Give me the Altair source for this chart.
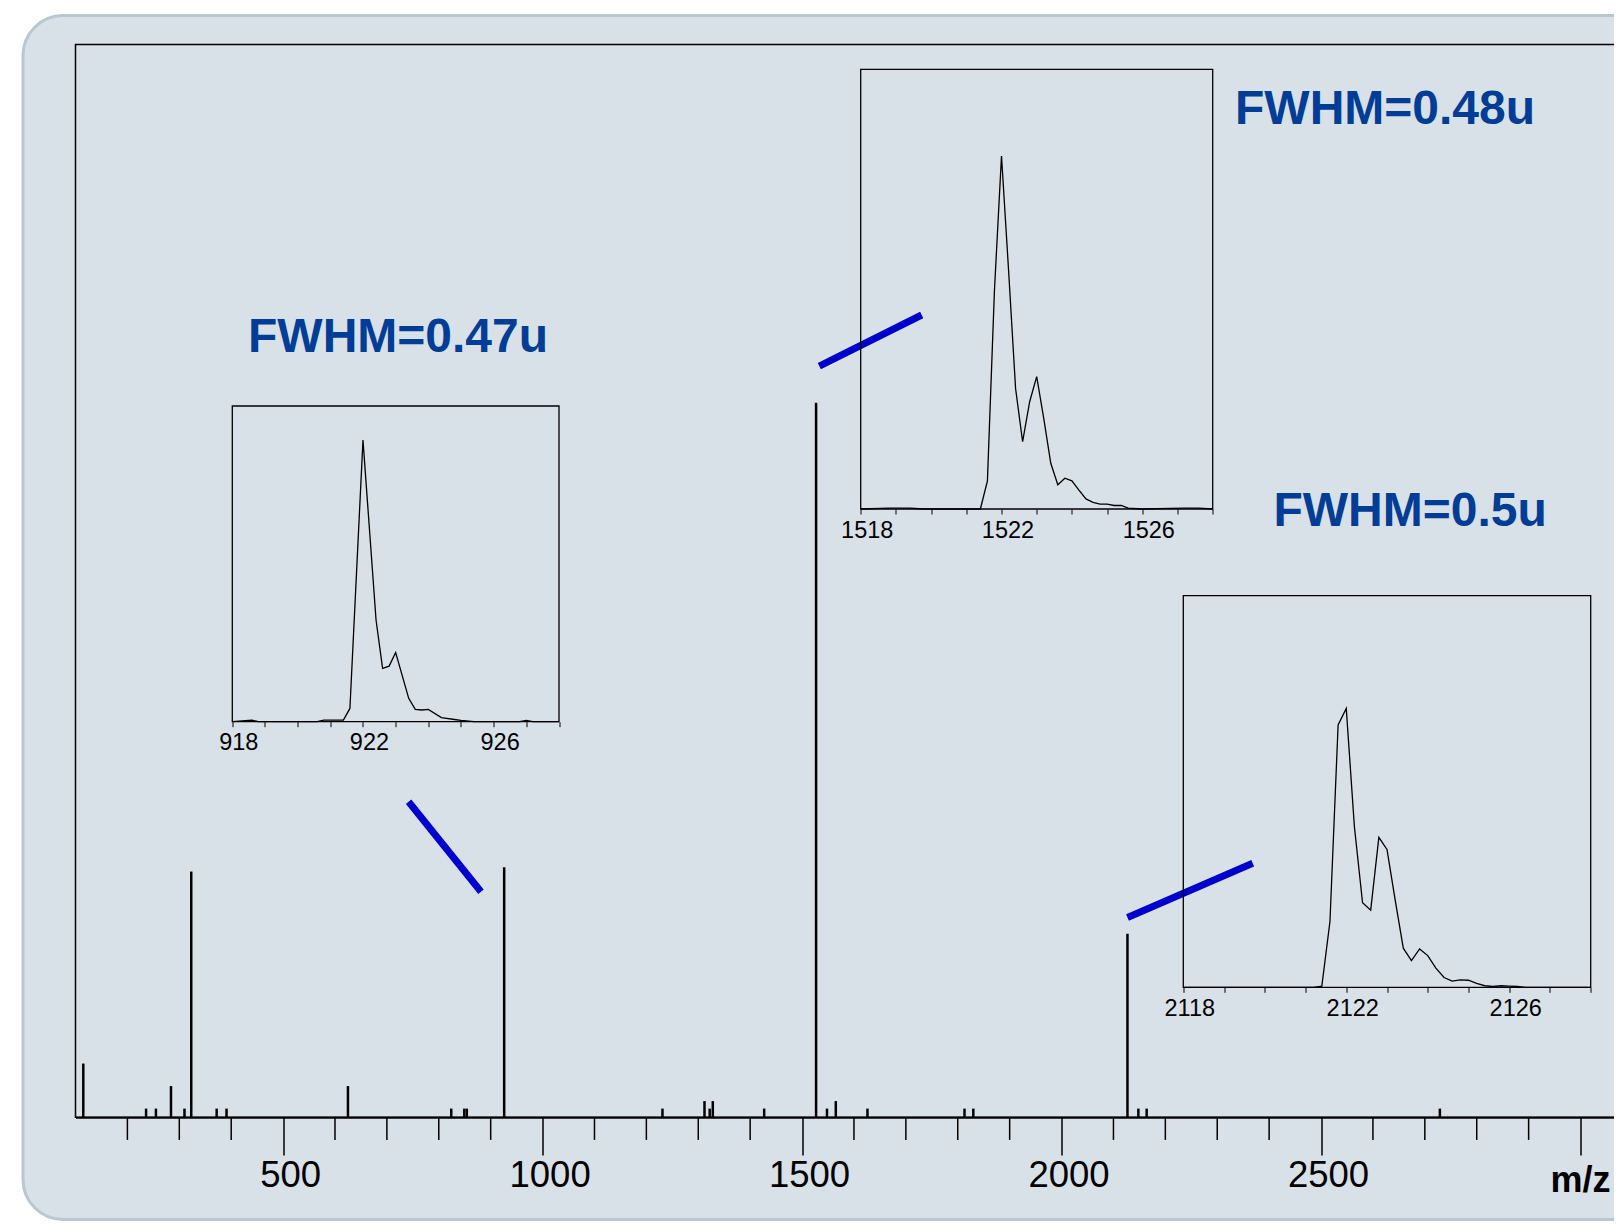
import altair as alt
import pandas as pd

# ---------------- data ----------------
# main spectrum: m/z and relative intensity (% of plot height)
peak_mz = [115, 236, 255, 284, 310, 323, 372, 391, 625, 824, 849, 854, 926,
           1231, 1312, 1322, 1328, 1427, 1527, 1548, 1565, 1626, 1813, 1830,
           2127, 2148, 2164, 2729]
peak_int = [5.0, 0.8, 0.8, 2.9, 0.8, 22.9, 0.8, 0.8, 2.9, 0.8, 0.8, 0.8, 23.3,
            0.8, 1.5, 0.8, 1.5, 0.8, 66.6, 0.8, 1.5, 0.8, 0.8, 0.8,
            17.1, 0.8, 0.8, 0.8]

major_ticks = [500, 1000, 1500, 2000, 2500, 3000]
minor_ticks = [v for v in range(200, 3000, 100) if v % 500 != 0]

# inset 1 (918-928)
ins1_mz = [918.0, 918.6, 918.8, 920.6, 920.8, 921.4, 921.6, 922.0, 922.4, 922.6,
           922.8, 923.0, 923.4, 923.6, 923.8, 924.0, 924.4, 924.8, 925.0, 925.4,
           926.8, 927.0, 927.2, 928.0]
ins1_int = [0, 0.005, 0, 0, 0.005, 0.005, 0.042, 0.892, 0.322, 0.169,
            0.176, 0.219, 0.074, 0.039, 0.037, 0.039, 0.013, 0.007, 0.004, 0,
            0, 0.004, 0, 0]
# inset 2 (1518-1528)
ins2_mz = [1518.0, 1518.8, 1519.4, 1519.8, 1521.4, 1521.6, 1521.8, 1522.0, 1522.2,
           1522.4, 1522.6, 1522.8, 1523.0, 1523.2, 1523.4, 1523.6, 1523.8, 1524.0,
           1524.2, 1524.4, 1524.6, 1524.8, 1525.0, 1525.2, 1525.4, 1525.6, 1526.0,
           1527.2, 1527.6, 1528.0]
ins2_int = [0, 0.002, 0.002, 0, 0, 0.064, 0.498, 0.803, 0.544,
            0.274, 0.153, 0.244, 0.301, 0.206, 0.104, 0.055, 0.070, 0.064,
            0.043, 0.023, 0.015, 0.011, 0.011, 0.008, 0.008, 0.002, 0,
            0.002, 0.002, 0]
# inset 3 (2118-2128)
ins3_mz = [2118.0, 2121.2, 2121.4, 2121.6, 2121.8, 2122.0, 2122.2, 2122.4, 2122.6,
           2122.8, 2123.0, 2123.2, 2123.4, 2123.6, 2123.8, 2124.0, 2124.2, 2124.4,
           2124.6, 2124.8, 2125.0, 2125.2, 2125.4, 2125.6, 2125.8, 2126.0, 2126.2,
           2126.4, 2128.0]
ins3_int = [0, 0, 0.003, 0.168, 0.670, 0.712, 0.410, 0.216, 0.197,
            0.383, 0.352, 0.223, 0.100, 0.068, 0.098, 0.081, 0.049, 0.025,
            0.016, 0.019, 0.018, 0.010, 0.004, 0.002, 0.004, 0.003, 0.002,
            0, 0]

fwhm_labels = ["FWHM=0.47u", "FWHM=0.48u", "FWHM=0.5u"]

# ---------------- styles / layout ----------------
FONT = "Liberation Sans"
PANEL = "#d9e1e8"
PANEL_EDGE = "#b7c8d2"
BLUE = "#0000cc"
TXT = "#003d96"
PLOT_W, H = 1545.5, 1072.7      # full plot frame (partly beyond the page edge)
W = 1538.5                      # visible drawing width (page must not overflow)
PAD = {"left": 67.5, "top": 36.5, "right": 0, "bottom": 104.8}

one = pd.DataFrame({"k": [0]})

main_sx = alt.Scale(domain=[100, 3078], range=[0, PLOT_W], nice=False, zero=False)
main_sy = alt.Scale(domain=[0, 100], nice=False, zero=False)
main_axis = alt.Axis(
    orient="bottom", values=major_ticks,
    labelExpr="datum.value < 2900 ? datum.label : ''",
    tickSize=37.7, tickWidth=1.5, tickColor="black",
    domainColor="black", domainWidth=2,
    labelFont=FONT, labelFontSize=36.5, labelColor="black", labelPadding=3,
    labelOffset=7, labelFlush=False, labelOverlap=False, grid=False, title=None,
    format="d", zindex=1,
)

panel = alt.Chart(one).mark_rect(
    fill=PANEL, stroke=PANEL_EDGE, strokeWidth=3, cornerRadius=40
).encode(x=alt.value(-52.5), x2=alt.value(1640), y=alt.value(-29), y2=alt.value(1175))

frame = alt.Chart(one).mark_rect(
    fill="white", fillOpacity=0, stroke="black", strokeWidth=1.5
).encode(x=alt.value(0), x2=alt.value(PLOT_W), y=alt.value(0), y2=alt.value(H))

minor = alt.Chart(pd.DataFrame({"mz": minor_ticks})).mark_rule(
    color="black", strokeWidth=1.5
).encode(
    x=alt.X("mz:Q", scale=main_sx, axis=main_axis),
    y=alt.value(H), y2=alt.value(H + 22.7),
)

spectrum = alt.Chart(pd.DataFrame({"mz": peak_mz, "intensity": peak_int})).mark_rule(
    color="black", strokeWidth=2.5
).encode(
    x=alt.X("mz:Q", scale=main_sx, axis=main_axis),
    y=alt.Y("intensity:Q", scale=main_sy, axis=None),
    y2=alt.datum(0),
)


def connector(x1, y1, x2, y2):
    return alt.Chart(one).mark_rule(color=BLUE, strokeWidth=7).encode(
        x=alt.value(x1), y=alt.value(y1), x2=alt.value(x2), y2=alt.value(y2)
    )


def label(txt, x, y):
    return alt.Chart(one).mark_text(
        text=txt, font=FONT, fontSize=48, fontWeight="bold", color=TXT,
        align="left", baseline="alphabetic"
    ).encode(x=alt.value(x), y=alt.value(y))


mz_label = alt.Chart(one).mark_text(
    text="m/z", font=FONT, fontSize=36, fontWeight="bold", color="black",
    align="left", baseline="alphabetic"
).encode(x=alt.value(1475), y=alt.value(1147))

main = alt.layer(
    panel, frame, minor, spectrum,
    connector(333.1, 757.2, 405.5, 847.2),
    connector(743.8, 321.7, 846.2, 270.5),
    connector(1052, 873, 1177.2, 818.8),
    label(fwhm_labels[0], 172.5, 307.2),
    label(fwhm_labels[1], 1159.5, 79.5),
    label(fwhm_labels[2], 1197.9, 481),
    mz_label,
)


def inset(xs, ys, dom, xr, yr):
    sx = alt.Scale(domain=dom, range=xr, nice=False, zero=False)
    sy = alt.Scale(domain=[0, 1], range=yr, nice=False, zero=False)
    ax = alt.Axis(
        orient="bottom", offset=yr[0] - H,
        values=list(range(dom[0], dom[1] + 1)),
        labelExpr=f"(datum.value - {dom[0]}) % 4 == 0 ? datum.label : ''",
        tickSize=5, tickWidth=1, tickColor="black", domain=False,
        labelFont=FONT, labelFontSize=23.5, labelColor="black", labelPadding=4,
        labelOffset=6, labelFlush=False, labelOverlap=False, grid=False,
        title=None, format="d", zindex=1,
    )
    box = alt.Chart(pd.DataFrame({"a": [dom[0]], "b": [dom[1]], "c": [0], "d": [1]})).mark_rect(
        fill="white", fillOpacity=0, stroke="black", strokeWidth=1.3
    ).encode(
        x=alt.X("a:Q", scale=sx, axis=ax), x2="b:Q",
        y=alt.Y("c:Q", scale=sy, axis=None), y2="d:Q",
    )
    line = alt.Chart(pd.DataFrame({"mz": xs, "i": ys})).mark_line(
        color="black", strokeWidth=1.3
    ).encode(
        x=alt.X("mz:Q", scale=sx, axis=ax),
        y=alt.Y("i:Q", scale=sy, axis=None),
    )
    return alt.layer(box, line)


ins1 = inset(ins1_mz, ins1_int, [918, 928], [156.8, 483.5], [677.2, 361.5])
ins2 = inset(ins2_mz, ins2_int, [1518, 1528], [785.2, 1137.2], [464.5, 24.8])
ins3 = inset(ins3_mz, ins3_int, [2118, 2128], [1107.8, 1515.2], [942.8, 551.2])

chart = alt.layer(main, ins1, ins2, ins3).resolve_scale(
    x="independent", y="independent"
).properties(
    width=W, height=H,
    autosize=alt.AutoSizeParams(type="none"),
    padding=PAD, background="white",
).configure_view(strokeWidth=0)

chart.save("out.html", embed_options={"renderer": "svg", "actions": False})
